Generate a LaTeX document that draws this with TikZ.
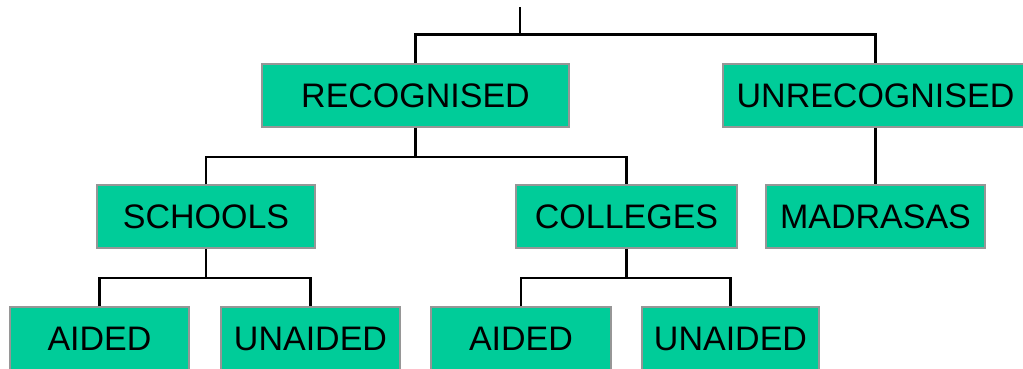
\documentclass[tikz,border=0pt]{standalone}
\usepackage{fontspec}
\setmainfont{Liberation Sans}
\definecolor{boxgreen}{RGB}{0,204,153}
\definecolor{boxgray}{RGB}{150,150,150}
\begin{document}
\begin{tikzpicture}[x=1pt,y=-1pt,
  box/.style={draw=boxgray, line width=1.4pt, fill=boxgreen, minimum height=63pt,
    inner sep=0pt, font=\fontsize{34}{40}\selectfont},
  link/.style={line width=2.8pt, black},
  thinlink/.style={line width=2.2pt, black}]
\useasboundingbox (0,0) rectangle (1023,368);
\clip (0,0) rectangle (1023,368);
\node[box, minimum width=307pt] (rec) at (415.5,95.5) {RECOGNISED};
\node[box, minimum width=305pt] (unrec) at (875.5,95.5) {UNRECOGNISED};
\node[box, minimum width=218pt] (schools) at (206,216.5) {SCHOOLS};
\node[box, minimum width=221pt] (colleges) at (626.5,216.5) {COLLEGES};
\node[box, minimum width=219pt] (madrasas) at (875.5,216.5) {MADRASAS};
\node[box, minimum width=179pt] (aided1) at (99.5,338.5) {AIDED};
\node[box, minimum width=179pt] (unaided1) at (310.5,338.5) {UNAIDED};
\node[box, minimum width=180pt] (aided2) at (521,338.5) {AIDED};
\node[box, minimum width=177pt] (unaided2) at (730.5,338.5) {UNAIDED};
\coordinate (root) at (520,7);
\coordinate (rj) at (520,34.5);
\path (rec.south) ++(0,29) coordinate (rj2);
\path (schools.south) ++(0,29) coordinate (sj);
\path (colleges.south) ++(0,29) coordinate (cj);
\draw[thinlink] (root) -- (rj);
\draw[link] (rec.north) |- (rj) -| (unrec.north);
\draw[link] (rec.south) -- (rj2);
\draw[thinlink] (schools.north) |- (rj2) -| (colleges.north);
\draw[thinlink] (unrec.south) -- (madrasas.north);
\draw[link] (schools.south) -- (sj);
\draw[thinlink] (aided1.north) |- (sj) -| (unaided1.north);
\draw[thinlink] (colleges.south) -- (cj);
\draw[thinlink] (aided2.north) |- (cj) -| (unaided2.north);
\end{tikzpicture}
\end{document}
